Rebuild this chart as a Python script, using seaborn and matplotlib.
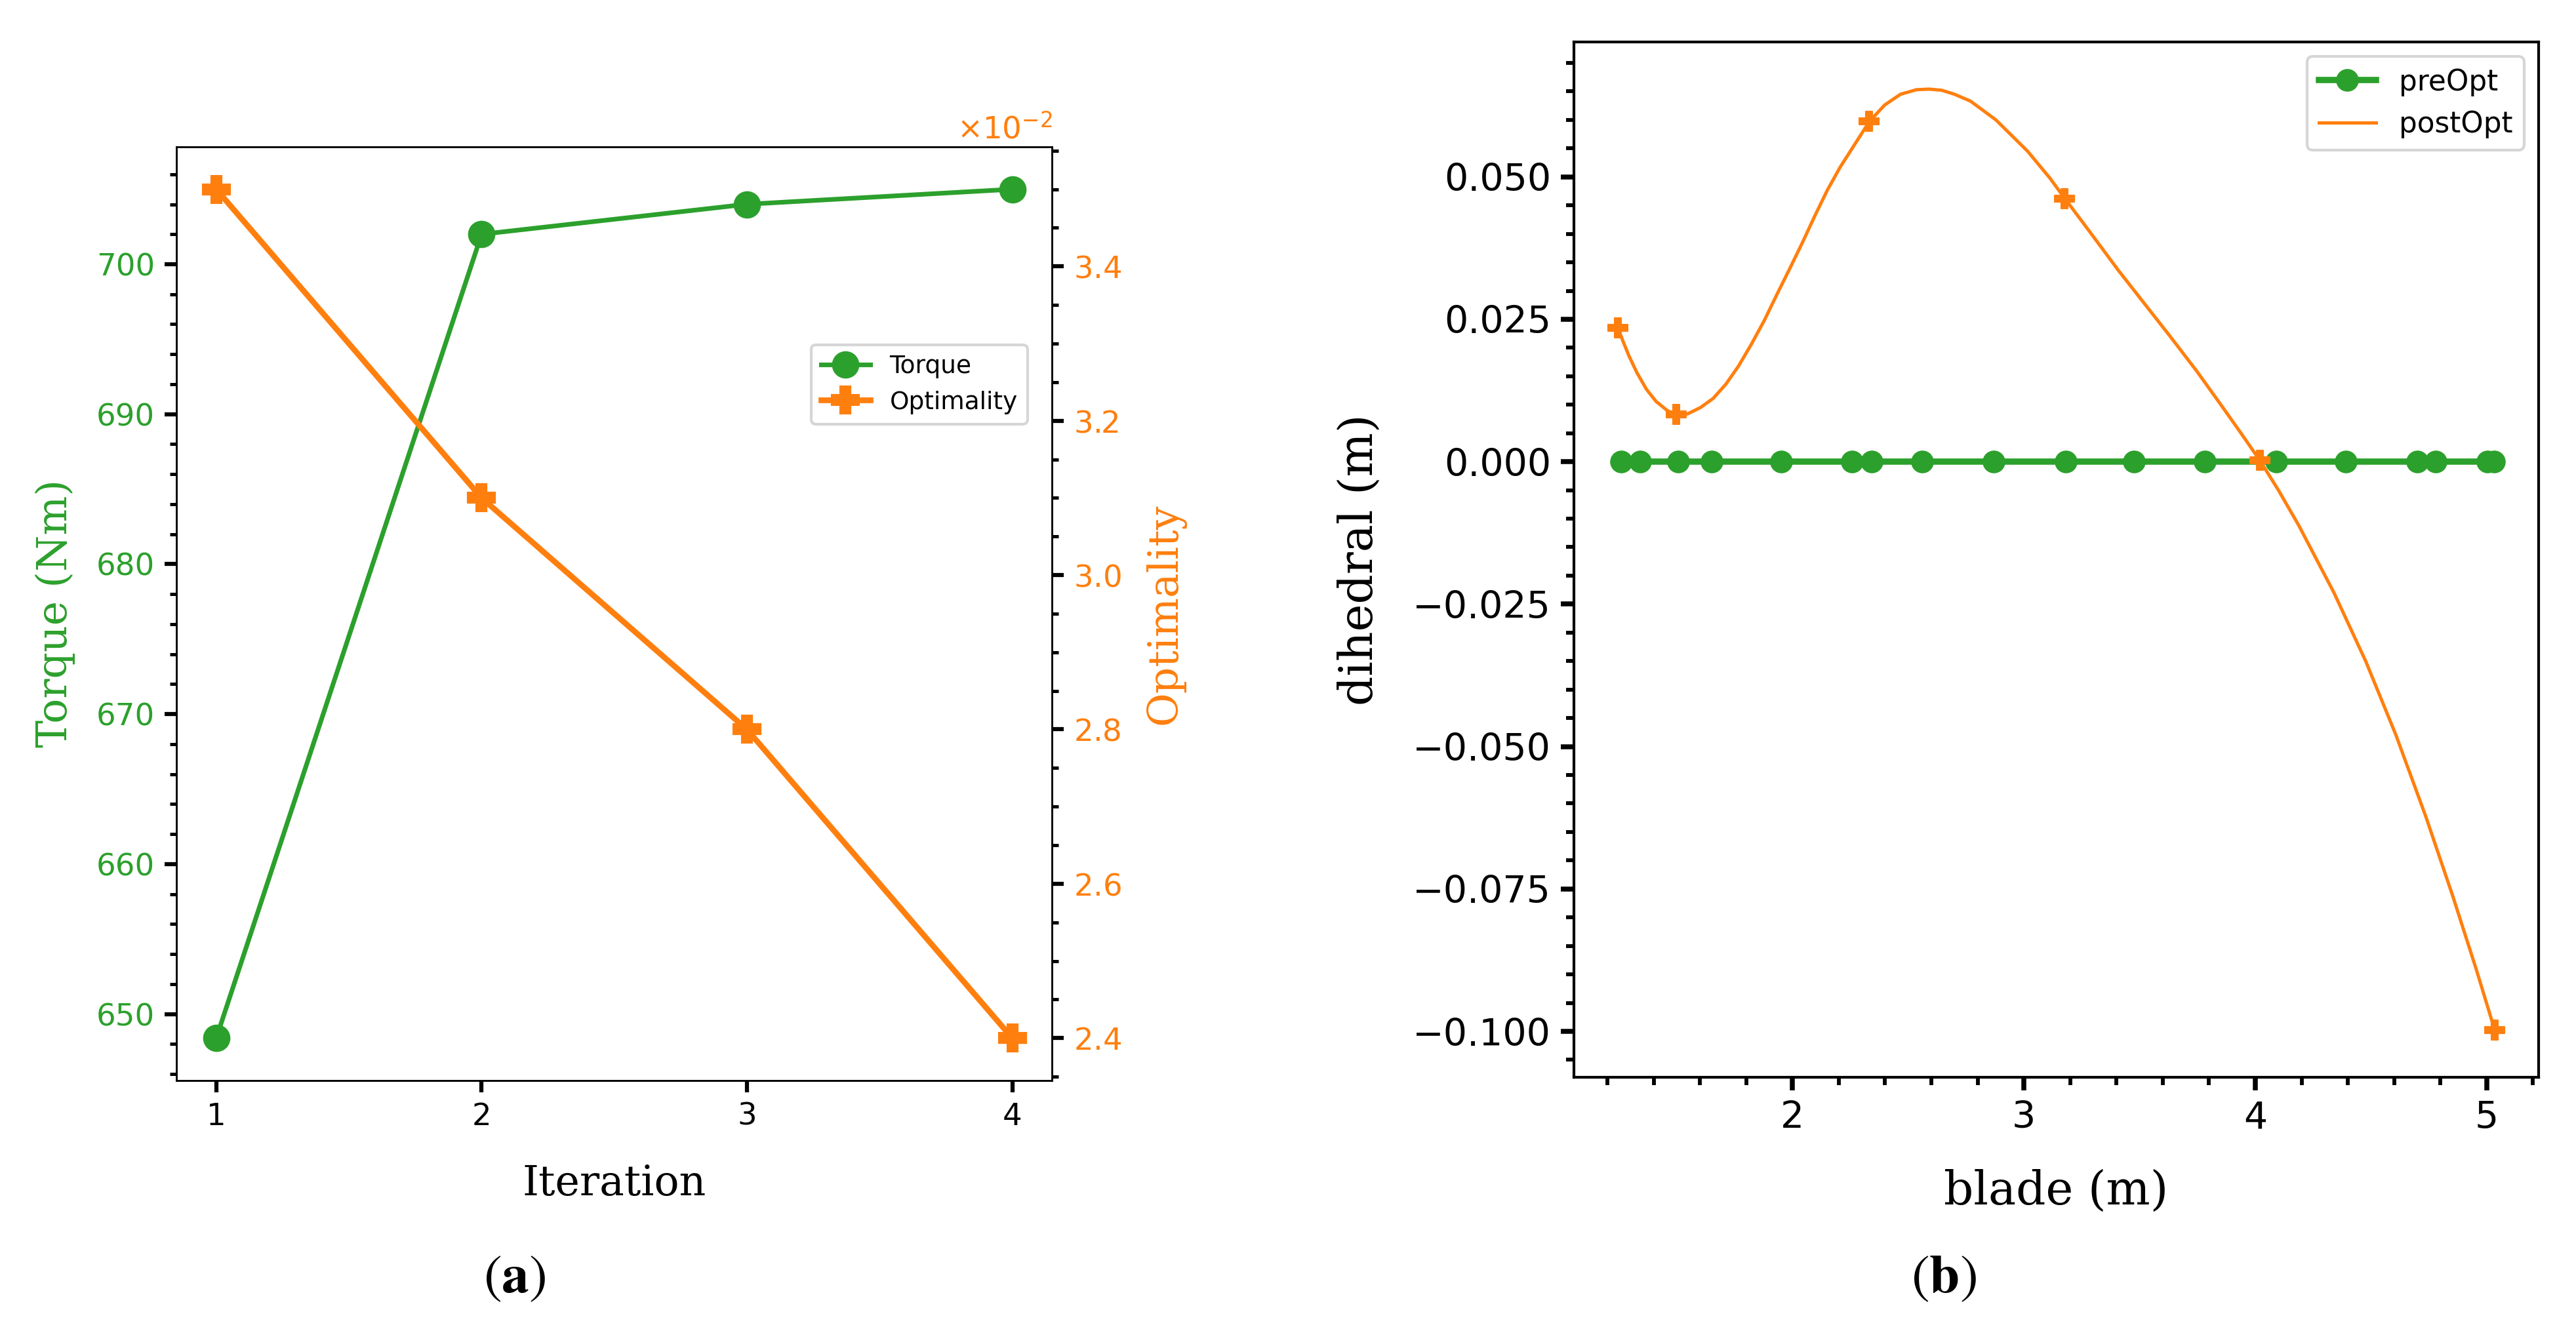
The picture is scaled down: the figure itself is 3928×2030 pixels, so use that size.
import matplotlib
matplotlib.use("Agg")
import matplotlib.pyplot as plt
from matplotlib.ticker import AutoMinorLocator
import seaborn as sns

GREEN = "#2ca02c"
ORANGE = "#ff7f0e"

# (a) optimisation history
iterations = [1, 2, 3, 4]
torque = [648.4, 702.0, 704.0, 705.0]
optimality = [0.035, 0.031, 0.028, 0.024]

# (b) dihedral along the blade
blade_pre = [1.260, 1.343, 1.507, 1.650, 1.952, 2.258, 2.342, 2.561, 2.870,
             3.182, 3.476, 3.783, 4.091, 4.390, 4.701, 4.780, 5.004, 5.033]
dihedral_pre = [0.0, 0.0, 0.0, 0.0, 0.0, 0.0, 0.0, 0.0, 0.0,
                0.0, 0.0, 0.0, 0.0, 0.0, 0.0, 0.0, 0.0, 0.0]

ctrl_blade = [1.245, 1.499, 2.332, 3.175, 4.020, 5.035]
ctrl_dihedral = [0.0235, 0.0083, 0.0598, 0.0462, 0.0002, -0.0998]

# points
curve_blade = [1.245, 1.266, 1.293, 1.328, 1.369, 1.410, 1.458, 1.499, 1.547,
               1.602, 1.657, 1.712, 1.767, 1.822, 1.877, 1.932, 1.987, 2.041,
               2.096, 2.151, 2.206, 2.261, 2.332, 2.398, 2.467, 2.536, 2.591,
               2.645, 2.700, 2.769, 2.879, 3.016, 3.112, 3.175, 3.249, 3.315,
               3.408, 3.520, 3.632, 3.747, 3.860, 3.940, 4.020, 4.100, 4.188,
               4.340, 4.477, 4.607, 4.737, 4.853, 4.954, 5.035]
curve_dihedral = [0.0235, 0.0213, 0.0186, 0.0156, 0.0127, 0.0106, 0.0090, 0.0082, 0.0084,
                  0.0095, 0.0111, 0.0136, 0.0168, 0.0206, 0.0247, 0.0293, 0.0338, 0.0383,
                  0.0431, 0.0477, 0.0517, 0.0552, 0.0597, 0.0626, 0.0645, 0.0653, 0.0654,
                  0.0652, 0.0645, 0.0633, 0.0600, 0.0545, 0.0498, 0.0463, 0.0423, 0.0387,
                  0.0336, 0.0278, 0.0220, 0.0159, 0.0095, 0.0049, 0.0002, -0.0050, -0.0112,
                  -0.0230, -0.0350, -0.0479, -0.0623, -0.0762, -0.0890, -0.0998]

SERIF = "DejaVu Serif"

fig = plt.figure(figsize=(3928 / 300, 2030 / 300), dpi=300)
ax_a = fig.add_axes([0.0685, 0.1882, 0.3399, 0.7015])
ax_a2 = ax_a.twinx()
ax_b = fig.add_axes([0.6110, 0.1906, 0.3745, 0.7778])

# ---- panel (a)
sns.lineplot(x=iterations, y=torque, ax=ax_a, color=GREEN, marker="o",
             markersize=9, markeredgecolor=GREEN, markeredgewidth=1,
             linewidth=1.7, label="Torque")
sns.lineplot(x=iterations, y=optimality, ax=ax_a2, color=ORANGE, marker="P",
             markersize=9.5, markeredgecolor=ORANGE, markeredgewidth=1,
             linewidth=2.1, label="Optimality")
for a in (ax_a, ax_a2):
    if a.get_legend() is not None:
        a.get_legend().remove()

h1, l1 = ax_a.get_legend_handles_labels()
h2, l2 = ax_a2.get_legend_handles_labels()
ax_a2.legend(h1 + h2, l1 + l2, loc="upper right", bbox_to_anchor=(0.972, 0.788),
             borderaxespad=0, fontsize=9)

ax_a.set_xticks(iterations)
ax_a.yaxis.set_minor_locator(AutoMinorLocator())
ax_a2.yaxis.set_minor_locator(AutoMinorLocator())
ax_a2.ticklabel_format(axis="y", style="sci", scilimits=(0, 0), useMathText=True)

for a in (ax_a, ax_a2):
    a.tick_params(which="major", length=4.4, width=1.5, labelsize=11.2)
    a.tick_params(which="minor", length=2.4, width=1.2)
    for sp in a.spines.values():
        sp.set_linewidth(0.6)
ax_a.tick_params(axis="y", which="both", labelcolor=GREEN)
ax_a2.tick_params(axis="y", which="both", labelcolor=ORANGE)
ax_a2.yaxis.get_offset_text().set_color(ORANGE)
ax_a2.yaxis.get_offset_text().set_fontsize(11.2)

ax_a.set_xlabel("Iteration", fontfamily=SERIF, fontsize=15.2)
ax_a.set_ylabel("Torque (Nm)", fontfamily=SERIF, fontsize=15.2, color=GREEN)
ax_a2.set_ylabel("Optimality", fontfamily=SERIF, fontsize=15.2, color=ORANGE)
ax_a.xaxis.set_label_coords(0.5, -0.089)
ax_a.yaxis.set_label_coords(-0.1154, 0.5)
ax_a2.yaxis.set_label_coords(1.1056, 0.5)

# ---- panel (b)
sns.lineplot(x=blade_pre, y=dihedral_pre, ax=ax_b, color=GREEN, marker="o",
             markersize=7.3, markeredgecolor=GREEN, markeredgewidth=1,
             linewidth=2.3, label="preOpt")
sns.lineplot(x=curve_blade, y=curve_dihedral, ax=ax_b, color=ORANGE,
             linewidth=1.2, sort=False, label="postOpt")
sns.scatterplot(x=ctrl_blade, y=ctrl_dihedral, ax=ax_b, color=ORANGE, marker="P",
                s=55, edgecolor=ORANGE, linewidth=0.5, legend=False, zorder=3)
ax_b.legend(loc="upper right", fontsize=10.5)

ax_b.xaxis.set_minor_locator(AutoMinorLocator())
ax_b.yaxis.set_minor_locator(AutoMinorLocator())
ax_b.tick_params(which="major", length=4.9, width=1.8, labelsize=13.7)
ax_b.tick_params(which="minor", length=2.9, width=1.4)
for sp in ax_b.spines.values():
    sp.set_linewidth(1.0)

ax_b.set_xlabel("blade (m)", fontfamily=SERIF, fontsize=17)
ax_b.set_ylabel("dihedral (m)", fontfamily=SERIF, fontsize=17)
ax_b.xaxis.set_label_coords(0.5, -0.0887)
ax_b.yaxis.set_label_coords(-0.1985, 0.5)

# ---- captions
fig.text(785 / 3928, 1 - 1948 / 2030, r"$(\mathbf{a})$", math_fontfamily="stix",
         fontsize=20, ha="center", va="center")
fig.text(2964 / 3928, 1 - 1948 / 2030, r"$(\mathbf{b})$", math_fontfamily="stix",
         fontsize=20, ha="center", va="center")

fig.savefig("out.png", dpi=300, facecolor="white")
plt.close(fig)
